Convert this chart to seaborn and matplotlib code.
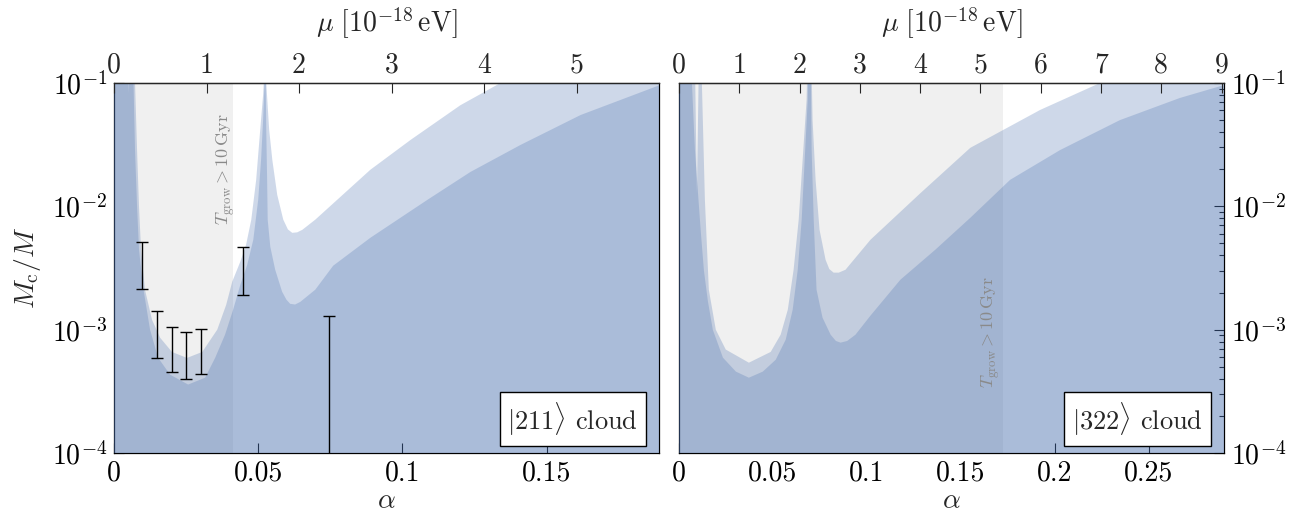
import numpy as np
import matplotlib
matplotlib.use('Agg')
import matplotlib.pyplot as plt
from matplotlib.ticker import FixedLocator, FuncFormatter, LogLocator
import seaborn as sns

sns.set_style('ticks')
plt.rcParams['font.family'] = 'serif'
plt.rcParams['font.serif'] = ['cmr10']
plt.rcParams['mathtext.fontset'] = 'cm'
plt.rcParams['axes.formatter.use_mathtext'] = True
plt.rcParams['font.size'] = 20

# alpha per unit of mu [1e-18 eV]
alpha_per_mu = 0.03208

# |211> cloud : upper edge of the light band
a211_up = [0.0, 0.00694, 0.0073, 0.0080, 0.00868, 0.00938, 0.01076, 0.0132, 0.0160, 0.0201,
           0.0253, 0.0306, 0.0358, 0.0389, 0.0410, 0.0438, 0.0458, 0.0476, 0.0493, 0.0507,
           0.0517, 0.0522, 0.0524, 0.0528, 0.0538, 0.0549, 0.0566, 0.0587, 0.0603, 0.0618,
           0.0635, 0.0653, 0.0698, 0.0774, 0.0889, 0.1028, 0.1201, 0.134, 0.19]
mc211_up = [1.0, 1.0, 0.1, 2.86e-2, 9.9e-3, 4.45e-3, 2.1e-3, 1.2e-3, 8.6e-4, 6.6e-4,
            5.9e-4, 6.6e-4, 1.0e-3, 1.59e-3, 2.45e-3, 3.56e-3, 4.88e-3, 7.78e-3, 1.64e-2, 4.17e-2,
            8.0e-2, 0.13, 1.0, 0.1, 4.2e-2, 2.38e-2, 1.24e-2, 7.8e-3, 6.5e-3, 6.1e-3,
            6.15e-3, 6.45e-3, 7.8e-3, 1.13e-2, 1.98e-2, 3.45e-2, 6.6e-2, 0.1, 0.5]

# |211> cloud : lower (dark) edge
a211_lo = [0.0, 0.0038, 0.0050, 0.00625, 0.00677, 0.00729, 0.0080, 0.00868, 0.01007, 0.0125,
           0.01528, 0.01944, 0.0257, 0.0316, 0.0351, 0.0385, 0.0413, 0.0438, 0.0462, 0.0483,
           0.0500, 0.0510, 0.0517, 0.0522, 0.0524, 0.0526, 0.0528, 0.0531, 0.0533, 0.0542,
           0.0559, 0.0583, 0.0598, 0.0611, 0.0628, 0.0646, 0.0698, 0.0760, 0.0889, 0.1087,
           0.1236, 0.141, 0.1618, 0.1892, 0.19]
mc211_lo = [1.0, 1.0, 8.3e-2, 1.0, 0.1, 2.86e-2, 9.9e-3, 4.45e-3, 2.23e-3, 1.0e-3,
            5.93e-4, 4.32e-4, 3.59e-4, 4.08e-4, 5.93e-4, 9.1e-4, 1.45e-3, 2.31e-3, 3.36e-3, 5.36e-3,
            1.13e-2, 2.38e-2, 5.0e-2, 0.1, 1.0, 0.1, 4.17e-2, 1.64e-2, 7.78e-3, 4.7e-3,
            3.06e-3, 2.03e-3, 1.75e-3, 1.62e-3, 1.6e-3, 1.68e-3, 2.11e-3, 3.3e-3, 5.56e-3, 1.13e-2,
            1.9e-2, 3.15e-2, 5.5e-2, 9.6e-2, 0.1]

# |322> cloud : upper edge of the light band
a322_up = [0.0, 0.0077, 0.00955, 0.0114, 0.0122, 0.0138, 0.0159, 0.0196, 0.0249, 0.0372,
           0.0488, 0.0541, 0.0579, 0.0610, 0.0637, 0.0658, 0.0679, 0.0695, 0.0711, 0.0727,
           0.0748, 0.0780, 0.0800, 0.0823, 0.0850, 0.0886, 0.1019, 0.1285, 0.155, 0.1921,
           0.224, 0.29]
mc322_up = [1.0, 1.0, 1.28e-2, 1.0, 0.1, 1.13e-2, 2.11e-3, 1.0e-3, 6.9e-4, 5.4e-4,
            6.6e-4, 9.1e-4, 1.45e-3, 3.06e-3, 7.78e-3, 2.38e-2, 7.3e-2, 1.0, 5.0e-2, 1.64e-2,
            6.46e-3, 3.69e-3, 3.1e-3, 2.9e-3, 2.9e-3, 3.06e-3, 5.36e-3, 1.28e-2, 2.98e-2, 6.04e-2,
            0.1, 0.5]

# |322> cloud : lower (dark) edge
a322_lo = [0.0, 0.0064, 0.0069, 0.0085, 0.0101, 0.0117, 0.0133, 0.0154, 0.0180, 0.0234,
           0.0303, 0.0372, 0.0446, 0.0515, 0.0568, 0.0605, 0.0632, 0.0653, 0.0669, 0.0685,
           0.0695, 0.0706, 0.0717, 0.0732, 0.0764, 0.0807, 0.0835, 0.0860, 0.0895, 0.0939,
           0.1019, 0.1178, 0.1364, 0.1550, 0.1762, 0.2028, 0.2346, 0.2665, 0.2898, 0.29]
mc322_lo = [1.0, 1.0, 0.1, 2.86e-2, 1.3e-2, 6.0e-3, 3.0e-3, 1.7e-3, 1.0e-3, 5.93e-4,
            4.57e-4, 4.08e-4, 4.57e-4, 5.71e-4, 8.3e-4, 1.45e-3, 3.06e-3, 7.78e-3, 2.38e-2, 7.3e-2,
            1.0, 2.86e-2, 7.78e-3, 2.11e-3, 1.25e-3, 9.1e-4, 8.1e-4, 7.85e-4, 8.1e-4, 9.1e-4,
            1.3e-3, 2.54e-3, 4.45e-3, 8.07e-3, 1.64e-2, 2.86e-2, 5.0e-2, 7.56e-2, 9.6e-2, 0.1]

# growth time longer than 10 Gyr below these alphas
tgrow_211 = 0.0413
tgrow_322 = 0.1725

# measurements on the |211> panel
eb_alpha = [0.0097, 0.0149, 0.0201, 0.0250, 0.0302, 0.0448, 0.0747]
eb_low = [2.14e-3, 5.94e-4, 4.5e-4, 3.95e-4, 4.4e-4, 1.9e-3, 1e-5]
eb_high = [5.1e-3, 1.42e-3, 1.06e-3, 9.6e-4, 1.02e-3, 4.68e-3, 1.3e-3]

blue = sns.color_palette('deep')[0]
fig = plt.figure(figsize=(12.94, 5.12), dpi=100)
ax1 = fig.add_axes([0.0881, 0.1152, 0.4212, 0.7227])
ax2 = fig.add_axes([0.5247, 0.1152, 0.4212, 0.7227])

panels = [
    (ax1, a211_up, mc211_up, a211_lo, mc211_lo, tgrow_211, 0.189, np.arange(6), r'$|211\rangle$ cloud'),
    (ax2, a322_up, mc322_up, a322_lo, mc322_lo, tgrow_322, 0.29, np.arange(10), r'$|322\rangle$ cloud'),
]

for ax, au, mu_, al, ml, tg, amax, mu_ticks, name in panels:
    ax.set_yscale('log')
    ax.axvspan(0, tg, color='#f0f0f0', lw=0, zorder=1)
    ax.fill_between(au, 1e-6, mu_, color=blue, alpha=0.27, lw=0, zorder=3)
    ax.fill_between(al, 1e-6, ml, color=blue, alpha=0.27, lw=0, zorder=3)
    ax.set_xlim(0, amax)
    ax.set_ylim(1e-4, 1e-1)
    ax.xaxis.set_major_locator(FixedLocator(np.arange(0, amax, 0.05)))
    ax.xaxis.set_major_formatter(FuncFormatter(lambda v, p: '%g' % round(v, 3)))
    ax.yaxis.set_major_locator(LogLocator(base=10, numticks=10))
    ax.yaxis.set_minor_locator(LogLocator(base=10, subs=np.arange(2, 10), numticks=10))
    ax.tick_params(which='both', direction='in', top=False, width=0.8, colors='k', pad=5)
    ax.tick_params(which='major', length=7)
    ax.tick_params(which='minor', length=3.5)
    ax.tick_params(axis='x', which='minor', bottom=False)
    for s in ax.spines.values():
        s.set_color('k')
        s.set_linewidth(0.9)
    ax.set_xlabel(r'$\alpha$', labelpad=1)

    sec = ax.secondary_xaxis('top', functions=(lambda a: a / alpha_per_mu, lambda m: m * alpha_per_mu))
    sec.set_zorder(10)
    sec.xaxis.set_major_locator(FixedLocator(mu_ticks))
    sec.xaxis.set_major_formatter(FuncFormatter(lambda v, p: '%d' % round(v)))
    sec.tick_params(direction='in', length=7, width=0.8, pad=3)
    sec.spines['top'].set_linewidth(0.9)
    sec.set_xlabel(r'$\mu\ [10^{-18}\,\mathrm{eV}]$', labelpad=15)

    ax.text(0.842, 0.092, name, transform=ax.transAxes, ha='center', va='center', zorder=6,
            fontsize=19, bbox=dict(boxstyle='square,pad=0.3', fc='white', ec='k', lw=1))

ax1.tick_params(axis='y', which='both', left=True, right=False)
ax1.set_ylabel(r'$M_{\rm c}/M$', labelpad=6)
ax2.yaxis.tick_right()
ax2.tick_params(axis='y', which='both', left=False, right=True)

ax1.text(0.0385, 2.0e-2, r'$T_{\rm grow} > 10\,{\rm Gyr}$', rotation=90, fontsize=13,
         color='#8a8a8a', ha='center', va='center', zorder=4)
ax2.text(0.1658, 9.6e-4, r'$T_{\rm grow} > 10\,{\rm Gyr}$', rotation=90, fontsize=13,
         color='#8a8a8a', ha='center', va='center', zorder=4)

ec = np.array(eb_alpha)
lo = np.array(eb_low)
hi = np.array(eb_high)
mid = np.sqrt(lo * hi)
ax1.errorbar(ec, mid, yerr=[mid - lo, hi - mid], fmt='none', ecolor='k', elinewidth=1.0,
             capsize=4, capthick=1.0, zorder=5)

fig.savefig('out.png', dpi=100)
